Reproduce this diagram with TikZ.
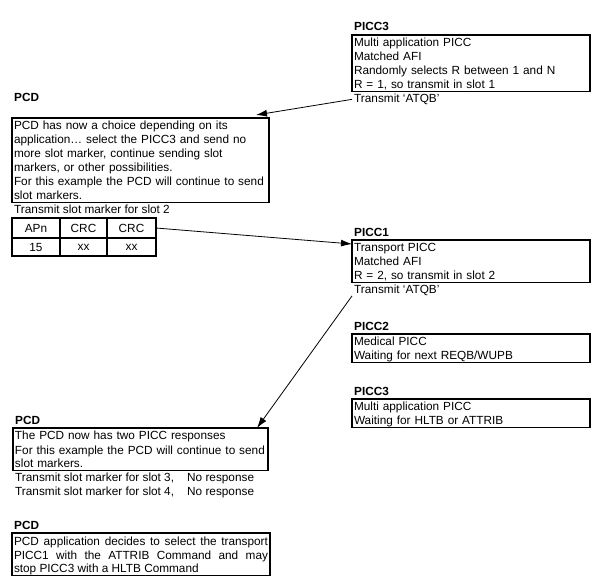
\documentclass[tikz,border=0pt]{standalone}
\usepackage{fontspec}
\setmainfont{Liberation Sans}
\usetikzlibrary{positioning,arrows.meta,calc}

\begin{document}
\begin{tikzpicture}[x=1pt,y=1pt,font=\fontsize{11.8}{14}\selectfont,
  box/.style={draw,line width=1.6pt,anchor=north west,align=left,outer sep=0pt,
    inner xsep=2pt,inner ysep=0pt,text width=#1,
    execute at begin node={\rule{0pt}{12pt}},
    execute at end node={\rule[-2.5pt]{0pt}{2.5pt}}},
  box/.default=234pt,
  lbl/.style={font=\fontsize{11.8}{14}\selectfont\bfseries,inner xsep=2pt,inner ysep=0pt},
  txt/.style={inner xsep=2pt,inner ysep=0pt},
  cell/.style={draw,line width=1.2pt,anchor=north west,outer sep=0pt,inner sep=0pt,minimum width=#1},
  conn/.style={line width=0.8pt,-{Latex[length=11pt,width=7pt]}}]
  \useasboundingbox (0,0) rectangle (598,-588);

  \node[box] (b3) at (352,-35) {Multi application PICC\\Matched AFI\\Randomly selects R between 1 and N\\R = 1, so transmit in slot 1};
  \node[lbl,above=4pt of b3.north west,anchor=base west] (l3) {PICC3};
  \node[txt,below=11pt of b3.south west,anchor=base west] (tx3) {Transmit {\char"60}ATQB'};

  \node[box=253pt] (p1) at (12,-118) {PCD has now a choice depending on its\\application… select the PICC3 and send no\\more slot marker, continue sending slot\\markers, or other possibilities.\\For this example the PCD will continue to send\\slot markers.};
  \node[lbl,above=16pt of p1.north west,anchor=base west] (lp1) {PCD};
  \node[txt,below=11.5pt of p1.south west,anchor=base west] (tx2) {Transmit slot marker for slot 2};

  \node[cell=48pt,minimum height=20pt] (apn) at (12,-218) {APn};
  \node[cell=47pt,minimum height=20pt] (crca) at (apn.north east) {CRC};
  \node[cell=49pt,minimum height=20pt] (crcb) at (crca.north east) {CRC};
  \node[cell=48pt,minimum height=18pt] (va) at (apn.south west) {15};
  \node[cell=47pt,minimum height=18pt] (vb) at (crca.south west) {xx};
  \node[cell=49pt,minimum height=18pt] (vc) at (crcb.south west) {xx};

  \node[box] (b1) at (352,-240) {Transport PICC\\Matched AFI\\R = 2, so transmit in slot 2};
  \node[lbl,above=3.5pt of b1.north west,anchor=base west] (l1) {PICC1};
  \node[txt,below=11pt of b1.south west,anchor=base west] (tx1) {Transmit {\char"60}ATQB'};

  \node[box] (b2) at (352,-334) {Medical PICC\\Waiting for next REQB/WUPB};
  \node[lbl,above=3.5pt of b2.north west,anchor=base west] (l2) {PICC2};

  \node[box] (b3b) at (352,-399) {Multi application PICC\\Waiting for HLTB or ATTRIB};
  \node[lbl,above=3.5pt of b3b.north west,anchor=base west] (l3b) {PICC3};

  \node[box=251pt] (p2) at (13,-428) {The PCD now has two PICC responses\\For this example the PCD will continue to send\\slot markers.};
  \node[lbl,above=3.5pt of p2.north west,anchor=base west] (lp2) {PCD};
  \node[txt,below=11pt of p2.south west,anchor=base west] (s3) {\makebox[172pt][l]{Transmit slot marker for slot 3,}No response};
  \node[txt,below=14pt of s3.base west,anchor=base west] (s4) {\makebox[172pt][l]{Transmit slot marker for slot 4,}No response};

  \node[box=254pt,align=justify] (p3) at (12,-533) {PCD application decides to select the transport\linebreak PICC1 with the ATTRIB Command and may\linebreak stop PICC3 with a HLTB Command};
  \node[lbl,above=3.5pt of p3.north west,anchor=base west] (lp3) {PCD};

  \draw[conn] (tx3.west) -- ($(p1.north east)+(-13,3)$);
  \draw[conn] (crcb.east) -- ($(b1.north west)+(0,-4)$);
  \draw[conn] (tx1.south west) -- ($(p2.north east)+(-11,0)$);
\end{tikzpicture}
\end{document}
